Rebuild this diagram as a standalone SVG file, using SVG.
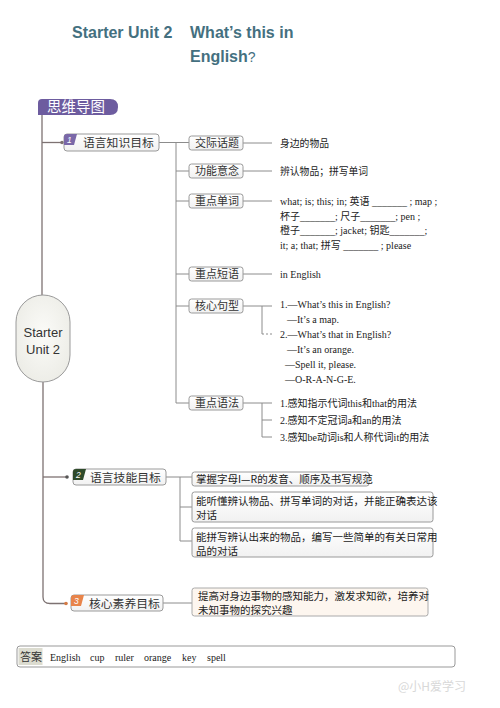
<svg xmlns="http://www.w3.org/2000/svg" width="500" height="708" viewBox="0 0 500 708">
<defs>
<style>
.title{font-family:"Liberation Sans",Arial,sans-serif;font-weight:bold;font-size:16px;fill:#44707f}
.ln{fill:none;stroke:#8c8c8c;stroke-width:1}
.trunk{fill:none;stroke:#7d7272;stroke-width:1.3}
.box{fill:url(#bg);stroke:#9a9a9a;stroke-width:1}
.lbl{font-family:"Noto Sans CJK SC","Noto Sans",sans-serif;font-size:11px;fill:#333}
.main{font-family:"Noto Sans CJK SC","Noto Sans",sans-serif;font-size:11.8px;fill:#333}
.txt{font-family:"Liberation Serif","Noto Sans CJK SC",serif;font-size:10px;fill:#222}
.cjk{font-family:"Noto Sans CJK SC","Liberation Serif",sans-serif;font-size:9.8px;fill:#222}
.btxt{font-family:"Noto Sans CJK SC","Liberation Serif",sans-serif;font-size:10.5px;fill:#222}
.badge{font-family:"Liberation Sans",Arial,sans-serif;font-size:8.5px;fill:#fff;font-style:italic}
</style>
<linearGradient id="bg" x1="0" y1="0" x2="0" y2="1"><stop offset="0" stop-color="#ffffff"/><stop offset="1" stop-color="#f1f1f1"/></linearGradient>
<radialGradient id="ov" cx="0.5" cy="0.45" r="0.6"><stop offset="0" stop-color="#fbfbf8"/><stop offset="1" stop-color="#ecece6"/></radialGradient>
</defs>
<rect width="500" height="708" fill="#ffffff"/>

<g id="title">
<text class="title" x="72" y="38">Starter Unit 2</text>
<text class="title" x="190" y="38">What’s this in</text>
<text class="title" x="190" y="62">English<tspan font-weight="normal" font-size="14">?</tspan></text>
</g>

<g id="tab">
<path d="M38,103 Q38,99 42,99 L110,99 Q118,99 118,107 Q118,115 110,115 L38,115 Z" fill="#6d5c9f"/>
<text x="47" y="112" font-family="Noto Sans CJK SC,sans-serif" font-size="14.5" fill="#fff">思维导图</text>
</g>

<g id="connectors">
<path class="trunk" d="M42,115 L42,295"/>
<path class="trunk" d="M42,142.5 L62,142.5"/>
<circle cx="62" cy="142.5" r="1.8" fill="#7d7272"/>
<path class="trunk" d="M43,382 L43,597 Q43,603.5 50,603.5 L65,603.5" stroke="#b5785a"/>
<path class="trunk" d="M43,477 L67,477"/>
<circle cx="67" cy="477" r="1.8" fill="#555"/>
<circle cx="66" cy="603.5" r="1.8" fill="#d47a45"/>
<path class="ln" d="M159,142.5 L176,142.5 M176,142.5 L176,403 M176,142.5 L189,142.5 M176,171 L189,171 M176,201 L189,201 M176,274 L189,274 M176,306 L189,306 M176,403 L189,403"/>
<path class="ln" d="M243,143 L272,143 M243,171 L272,171 M243,201 L272,201 M243,274 L272,274 M243,306 L272,306 M262,306 L262,334 M243,403 L272,403 M262,403 L262,437 L272,437 M262,420 L272,420"/>
<path class="ln" d="M262,334 L274,334" stroke-dasharray="2,2"/>
<path class="ln" d="M166,477 L192,477 M180,477 L180,541 M180,507 L192,507 M180,541 L192,541"/>
<path class="ln" d="M163,603 L192,603"/>
</g>

<g id="center">
<rect x="16" y="295" width="54" height="87" rx="27" ry="27" fill="url(#ov)" stroke="#9a9a9a"/>
<text x="43" y="337" text-anchor="middle" font-family="Liberation Sans,Arial,sans-serif" font-size="13" fill="#333">Starter</text>
<text x="43" y="354" text-anchor="middle" font-family="Liberation Sans,Arial,sans-serif" font-size="13" fill="#333">Unit 2</text>
</g>

<g id="n1">
<rect class="box" x="64" y="134" width="95" height="17" rx="3"/>
<path d="M64,137 Q64,134 67,134 L77,134 L74,145 L64,145 Z" fill="#7a68a8"/>
<text class="badge" x="67" y="142.5">1</text>
<text class="main" x="83" y="147">语言知识目标</text>
</g>

<g id="n1a"><rect class="box" x="189" y="136" width="54" height="14" rx="2.5"/><text class="lbl" x="195" y="147">交际话题</text>
<text class="cjk" x="280" y="146.5">身边的物品</text></g>
<g id="n1b"><rect class="box" x="189" y="164" width="54" height="14" rx="2.5"/><text class="lbl" x="195" y="175">功能意念</text>
<text class="cjk" x="280" y="174.5">辨认物品；拼写单词</text></g>
<g id="n1c"><rect class="box" x="189" y="194" width="54" height="14" rx="2.5"/><text class="lbl" x="195" y="205">重点单词</text>
<text class="txt" x="280" y="204.5">what; is; this; in; 英语 _______ ;  map ;</text>
<text class="txt" x="280" y="219.5">杯子_______;  尺子_______;  pen ;</text>
<text class="txt" x="280" y="234">橙子_______;  jacket;  钥匙_______;</text>
<text class="txt" x="280" y="249">it; a; that; 拼写 _______ ;  please</text></g>
<g id="n1d"><rect class="box" x="189" y="267" width="54" height="14" rx="2.5"/><text class="lbl" x="195" y="278">重点短语</text>
<text class="txt" x="280" y="278">in English</text></g>
<g id="n1e"><rect class="box" x="189" y="299" width="54" height="14" rx="2.5"/><text class="lbl" x="195" y="310">核心句型</text>
<text class="txt" x="280" y="308">1.—What’s this in English?</text>
<text class="txt" x="287" y="323">—It’s a map.</text>
<text class="txt" x="280" y="338">2.—What’s that in English?</text>
<text class="txt" x="287" y="353">—It’s an orange.</text>
<text class="txt" x="285" y="368">—Spell it, please.</text>
<text class="txt" x="285" y="383">—O-R-A-N-G-E.</text></g>
<g id="n1f"><rect class="box" x="189" y="396" width="54" height="14" rx="2.5"/><text class="lbl" x="195" y="407">重点语法</text>
<text class="txt" x="280" y="407">1.感知指示代词this和that的用法</text>
<text class="txt" x="280" y="424">2.感知不定冠词a和an的用法</text>
<text class="txt" x="280" y="441">3.感知be动词is和人称代词it的用法</text></g>

<g id="n2">
<rect class="box" x="73" y="469" width="93" height="16" rx="3"/>
<path d="M73,472 Q73,469 76,469 L86,469 L83,480 L73,480 Z" fill="#2e4a2a"/>
<text class="badge" x="76" y="477.5">2</text>
<text class="main" x="90" y="481.5">语言技能目标</text>
</g>
<g id="n2a"><rect class="box" x="192" y="472" width="177" height="14" rx="2.5"/>
<text class="btxt" x="196" y="483">掌握字母I—R的发音、顺序及书写规范</text></g>
<g id="n2b"><rect class="box" x="192" y="492" width="241" height="30" rx="2.5"/>
<text class="btxt" x="196" y="505">能听懂辨认物品、拼写单词的对话，并能正确表达该</text>
<text class="btxt" x="196" y="519">对话</text></g>
<g id="n2c"><rect class="box" x="192" y="528" width="241" height="29" rx="2.5"/>
<text class="btxt" x="196" y="541">能拼写辨认出来的物品，编写一些简单的有关日常用</text>
<text class="btxt" x="196" y="555">品的对话</text></g>

<g id="n3">
<rect class="box" x="71" y="595" width="92" height="16" rx="3"/>
<path d="M71,598 Q71,595 74,595 L84,595 L81,606 L71,606 Z" fill="#e8844a"/>
<text class="badge" x="74" y="603.5">3</text>
<text class="main" x="89" y="607.5">核心素养目标</text>
</g>
<g id="n3a"><rect x="192" y="588" width="236" height="28" rx="2.5" fill="#fdf6ef" stroke="#aaa"/>
<text class="btxt" x="198" y="600">提高对身边事物的感知能力，激发求知欲，培养对</text>
<text class="btxt" x="198" y="614">未知事物的探究兴趣</text></g>

<g id="answer">
<rect x="17" y="646" width="438" height="21" rx="3" fill="#fff" stroke="#999"/>
<rect x="18.5" y="648" width="24" height="17" fill="#dcdcd0"/>
<text x="20" y="661" font-family="Noto Sans CJK SC,sans-serif" font-size="11" fill="#333">答案</text>
<text class="txt" x="50" y="661" font-size="10.5">English</text>
<text class="txt" x="90" y="661" font-size="10.5">cup</text>
<text class="txt" x="115" y="661" font-size="10.5">ruler</text>
<text class="txt" x="144" y="661" font-size="10.5">orange</text>
<text class="txt" x="182" y="661" font-size="10.5">key</text>
<text class="txt" x="207" y="661" font-size="10.5">spell</text>
</g>

<g id="watermark">
<text x="398" y="691" font-family="Noto Sans CJK SC,sans-serif" font-size="12" fill="#d8d8d8">@小H爱学习</text>
</g>
</svg>
